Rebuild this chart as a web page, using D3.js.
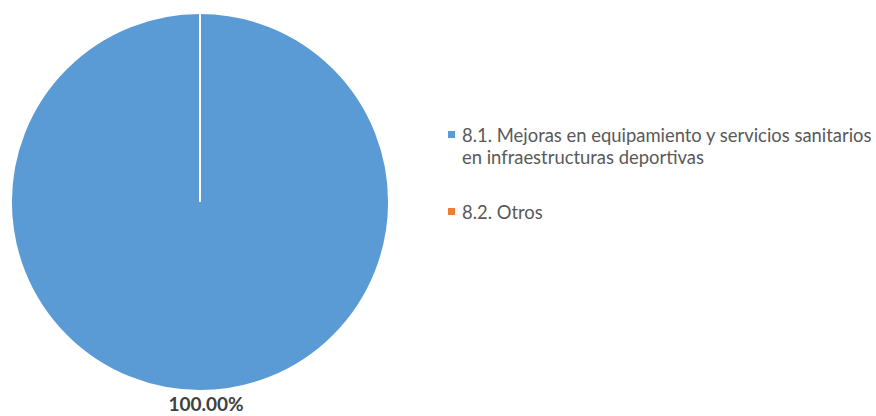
<!DOCTYPE html>
<html>
<head>
<meta charset="utf-8">
<script src="https://cdn.jsdelivr.net/npm/d3@7"></script>
<style>
  html, body { margin: 0; padding: 0; background: #fff; }
  svg { display: block; }
</style>
</head>
<body>
<svg id="chart" width="876" height="416"></svg>
<script>
// Categories and shares of the total (percent)
const categories = [
  ["8.1. Mejoras en equipamiento y servicios sanitarios", "en infraestructuras deportivas"],
  ["8.2. Otros"]
];
const values = [100, 0];
const colors = ["#5B9BD5", "#ED7D31"];

const svg = d3.select("#chart");
const cx = 200, cy = 202, R = 189;
const fontFamily = "Lato, 'Liberation Sans', sans-serif";

const data = values.map((v, i) => ({ name: categories[i], value: v, color: colors[i] }));

const pie = d3.pie().sort(null).value(d => d.value);
const arcs = pie(data);
const arc = d3.arc().innerRadius(0).outerRadius(R);

const g = svg.append("g").attr("transform", `translate(${cx},${cy})`);

g.selectAll("path.slice")
  .data(arcs)
  .join("path")
  .attr("class", "slice")
  .attr("d", arc)
  .attr("fill", d => d.data.color)
  .attr("stroke", "#fff")
  .attr("stroke-width", 2)
  .attr("stroke-linejoin", "miter");

// Value labels just outside the slice end
const total = d3.sum(values);
const labelArc = d3.arc().innerRadius(R + 15).outerRadius(R + 15);
const labels = g.selectAll("text.val")
  .data(arcs.filter(d => d.data.value > 0))
  .join("text")
  .attr("class", "val")
  .attr("x", d => labelArc.centroid(d)[0] + 6)
  .attr("y", d => labelArc.centroid(d)[1] + 5)
  .attr("text-anchor", "middle")
  .attr("font-family", fontFamily)
  .attr("font-weight", "bold")
  .attr("font-size", 17)
  .attr("fill", "#404040")
  .text(d => (d.data.value / total * 100).toFixed(2) + "%");
labels.each(function() {
  const w = this.getComputedTextLength();
  d3.select(this).attr("font-size", Math.min(17 * 77 / w, 19));
});

// Legend
const legend = svg.append("g").attr("class", "legend");
const legendX = 448, textX = 462;
const rowTops = [131, 208];
const lineGap = 22.5;

const items = legend.selectAll("g.item")
  .data(data)
  .join("g")
  .attr("class", "item");

items.append("rect")
  .attr("x", legendX)
  .attr("y", (d, i) => rowTops[i])
  .attr("width", 7)
  .attr("height", 7)
  .attr("fill", d => d.color);

const texts = items.append("text")
  .attr("font-family", fontFamily)
  .attr("font-size", 16)
  .attr("fill", "#595959");

texts.each(function(d, i) {
  const t = d3.select(this);
  d.name.forEach((line, j) => {
    t.append("tspan")
      .attr("x", textX)
      .attr("y", rowTops[i] + 10.5 + j * lineGap)
      .text(line);
  });
});

// scale legend font so the first line spans its intended width
const firstLine = texts.filter((d, i) => i === 0).select("tspan").node();
const w1 = firstLine.getComputedTextLength();
texts.attr("font-size", 16 * 410 / w1);
</script>
</body>
</html>
